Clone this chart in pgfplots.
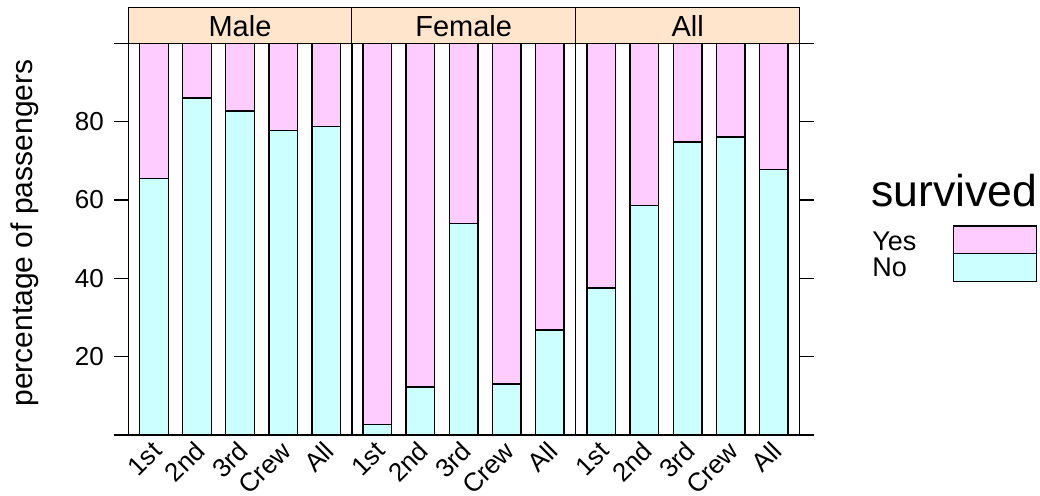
\documentclass[border=0pt]{standalone}
\usepackage{pgfplots}
\pgfplotsset{compat=1.18}
\usepackage{pgfplotstable}
\usepackage{fontspec}
\setmainfont{Liberation Sans}
\definecolor{cNo}{HTML}{CCFFFF}
\definecolor{cYes}{HTML}{FFCCFF}
\definecolor{cStrip}{HTML}{FFE5CC}

\pgfplotstableread{
x no yes
1 65.56 34.44
2 86.03 13.97
3 82.75 17.25
4 77.73 22.27
5 78.80 21.20
}\male
\pgfplotstableread{
x no yes
1 2.76 97.24
2 12.26 87.74
3 54.08 45.92
4 13.04 86.96
5 26.81 73.19
}\female
\pgfplotstableread{
x no yes
1 37.54 62.46
2 58.60 41.40
3 74.79 25.21
4 76.05 23.95
5 67.70 32.30
}\allp

\pgfplotsset{
 panel/.style={
   scale only axis, width=111.85pt, height=195.85pt,
   anchor=south west,
   xmin=0.405, xmax=5.595, ymin=0, ymax=100,
   ybar stacked, bar width=0.667,
   xtick={1,2,3,4,5}, xticklabels={1st,2nd,3rd,Crew,All},
   xtick pos=bottom,
   x tick style={draw=none},
   xticklabel style={xshift=4pt, yshift=4pt, rotate=45, anchor=east, font=\fontsize{13}{15}\selectfont},
   yticklabel style={xshift=-1.5pt, font=\fontsize{13}{15}\selectfont},
   ytick={0,20,40,60,80,100},
   tick align=outside, major tick length=7.25pt,
   axis line style={line width=0.7pt},
   y tick style={line width=0.7pt, black},
   /pgf/number format/assume math mode=true,
 },
 nobar/.style={fill=cNo, draw=black, line width=0.65pt},
 yesbar/.style={fill=cYes, draw=black, line width=0.65pt},
}

\begin{document}
\begin{tikzpicture}[x=0.5pt,y=0.5pt]
\begin{axis}[panel, at={(64.15pt,30pt)}, ytick pos=left, yticklabels={,20,40,60,80,}]
\addplot[nobar] table[x=x,y=no]{\male};
\addplot[yesbar] table[x=x,y=yes]{\male};
\end{axis}
\begin{axis}[panel, at={(175.85pt,30pt)}, ytick=\empty]
\addplot[nobar] table[x=x,y=no]{\female};
\addplot[yesbar] table[x=x,y=yes]{\female};
\end{axis}
\begin{axis}[panel, at={(287.85pt,30pt)}, ytick pos=right, yticklabels={,,,,,}]
\addplot[nobar] table[x=x,y=no]{\allp};
\addplot[yesbar] table[x=x,y=yes]{\allp};
\end{axis}
% strips
\begin{scope}[line width=0.7pt]
\draw[fill=cStrip] (128.3,451.7) rectangle (351.7,487.7);
\draw[fill=cStrip] (351.7,451.7) rectangle (575.7,487.7);
\draw[fill=cStrip] (575.7,451.7) rectangle (799.7,487.7);
\end{scope}
\node[font=\fontsize{14.5}{17}\selectfont] at (240,468.7) {Male};
\node[font=\fontsize{14.5}{17}\selectfont] at (463.7,468.7) {Female};
\node[font=\fontsize{14.5}{17}\selectfont] at (687.7,468.7) {All};
% y label
\node[font=\fontsize{15}{18}\selectfont, rotate=90, anchor=base] at (33,262) {percentage of passengers};
% legend
\node[font=\fontsize{22.3}{26}\selectfont, anchor=base west, inner sep=0pt] at (871,288.3) {survived};
\node[font=\fontsize{13.5}{16}\selectfont, anchor=base west, inner sep=0pt] at (872,245) {Yes};
\node[font=\fontsize{13.5}{16}\selectfont, anchor=base west, inner sep=0pt] at (872,219) {No};
\draw[line width=0.7pt, fill=cYes] (953.3,269) rectangle (1036.7,241.7);
\draw[line width=0.7pt, fill=cNo] (953.3,241.7) rectangle (1036.7,213.3);
\pgfresetboundingbox
\path (0,0) rectangle (1040,495);
\end{tikzpicture}
\end{document}
